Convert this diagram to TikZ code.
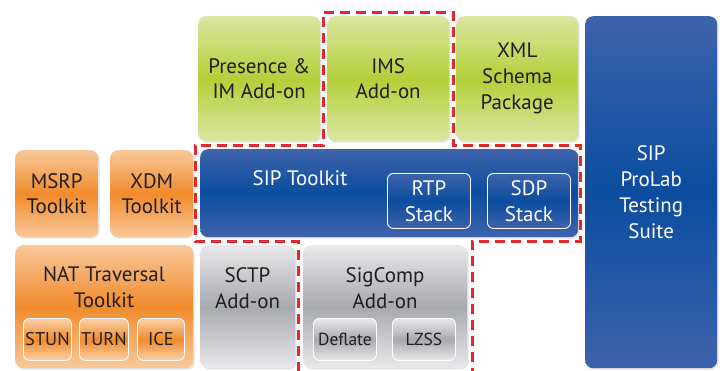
\documentclass[tikz,border=0pt]{standalone}
\usepackage{fontspec}
\setmainfont{PT Sans}
\usetikzlibrary{shadows}
\definecolor{gtop}{HTML}{DAE6A2}
\definecolor{gmid}{HTML}{B4CF38}
\definecolor{otop}{HTML}{F9C89A}
\definecolor{omid}{HTML}{F18B2C}
\definecolor{btop}{HTML}{3E63AB}
\definecolor{bmid}{HTML}{0B4DA0}
\definecolor{ytop}{HTML}{E9E9EB}
\definecolor{ymid}{HTML}{A8A9AD}
\definecolor{dred}{HTML}{E2282B}
\definecolor{tdark}{HTML}{1E1E1E}
\tikzset{
  box/.style={rounded corners=8bp, anchor=north west, inner sep=0pt, align=center,
    font=\fontsize{21}{26}\selectfont, text=tdark,
    drop shadow={opacity=0.22, shadow xshift=1.5bp, shadow yshift=-1.5bp}},
  greenbox/.style={box, top color=gtop, bottom color=gtop, middle color=gmid},
  orangebox/.style={box, top color=otop, bottom color=otop, middle color=omid},
  bluebox/.style={box, top color=btop, bottom color=btop, middle color=bmid, text=white},
  graybox/.style={box, top color=ytop, bottom color=ytop, middle color=ymid},
  subbox/.style={rounded corners=6bp, anchor=north west, inner sep=0pt, align=center,
    draw=white, line width=0.9bp, font=\fontsize{18.5}{24}\selectfont, text=tdark},
  osub/.style={subbox, top color=otop!85!white, bottom color=otop!85!white, middle color=omid},
  bsub/.style={subbox, top color=btop, bottom color=btop, middle color=bmid, text=white},
  ysub/.style={subbox, top color=ytop, bottom color=ytop, middle color=ymid, font=\fontsize{17.5}{22}\selectfont},
  lbl/.style={inner sep=0pt, align=center, font=\fontsize{21}{26}\selectfont, text=tdark},
  redline/.style={draw=dred, line width=3bp, dash pattern=on 10bp off 6bp}
}
\begin{document}
\begin{tikzpicture}[x=1bp, y=-1bp]
\useasboundingbox (0,0) rectangle (720,370);
% green row
\node[greenbox, minimum width=122bp, minimum height=125bp] (pres) at (198,16) {Presence \&\\IM Add-on};
\node[greenbox, minimum width=122bp, minimum height=125bp] (ims) at (327,16) {IMS\\Add-on};
\node[greenbox, minimum width=122bp, minimum height=125bp] (xml) at (456,16) {XML\\Schema\\Package};
% prolab
\node[bluebox, minimum width=132bp, minimum height=352bp] (prolab) at (585,16) {SIP\\ProLab\\Testing\\Suite};
% orange
\node[orangebox, minimum width=83bp, minimum height=87bp] (msrp) at (15,150) {MSRP\\Toolkit};
\node[orangebox, minimum width=83bp, minimum height=87bp] (xdm) at (110,150) {XDM\\Toolkit};
\node[orangebox, minimum width=178bp, minimum height=123bp] (nat) at (15,245) {};
\node[lbl] (natl) at (104,287) {NAT Traversal\\Toolkit};
\node[osub, minimum width=48bp, minimum height=42bp] (stun) at (23,318) {STUN};
\node[osub, minimum width=49bp, minimum height=42bp] (turn) at (79,318) {TURN};
\node[osub, minimum width=47bp, minimum height=42bp] (ice) at (137,318) {ICE};
% SIP toolkit
\node[bluebox, minimum width=378bp, minimum height=88bp] (sip) at (200,149) {};
\node[lbl, text=white] (sipl) at (300,178) {SIP Toolkit};
\node[bsub, minimum width=83bp, minimum height=55bp, font=\fontsize{21}{26}\selectfont] (rtp) at (387,173) {RTP\\Stack};
\node[bsub, minimum width=83bp, minimum height=55bp, font=\fontsize{21}{26}\selectfont] (sdp) at (487,173) {SDP\\Stack};
% gray
\node[graybox, minimum width=95bp, minimum height=123bp] (sctp) at (200,245) {};
\node[lbl] (sctpl) at (247.5,288) {SCTP\\Add-on};
\node[graybox, minimum width=164bp, minimum height=123bp] (sig) at (303,245) {};
\node[lbl] (sigl) at (385,288) {SigComp\\Add-on};
\node[ysub, minimum width=63bp, minimum height=42bp] (defl) at (313,318) {Deflate};
\node[ysub, minimum width=63bp, minimum height=42bp] (lzss) at (392,318) {LZSS};
% red dashed outline
\draw[redline] (298,372) -- (298,241) -- (195,241) -- (195,145) -- (323,145) -- (323,12)
  -- (453,12) -- (453,145) -- (580,145) -- (580,241) -- (472,241) -- (472,372);
\end{tikzpicture}
\end{document}
